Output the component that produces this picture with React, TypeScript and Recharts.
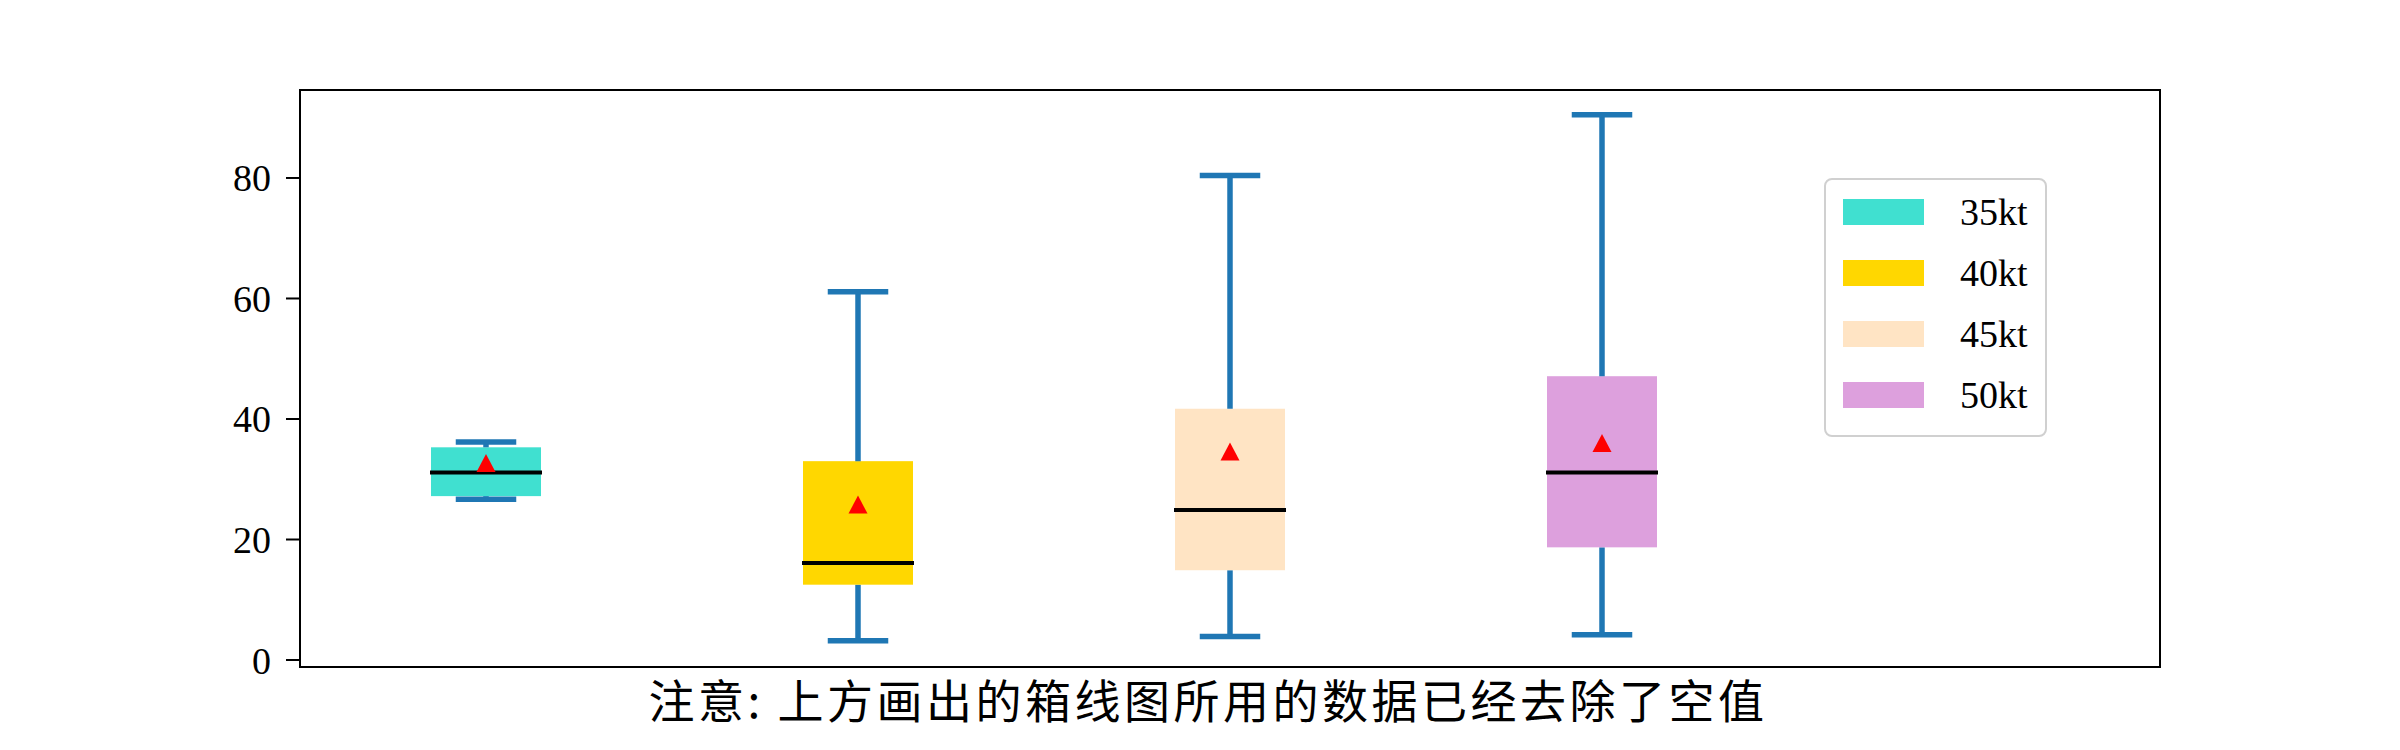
import React from 'react';
import {
  ComposedChart,
  Bar,
  Scatter,
  XAxis,
  YAxis,
  ReferenceArea,
} from 'recharts';

// box plot stats
const groups = ['35kt', '40kt', '45kt', '50kt'];
const positions = [1, 2, 3, 4];
const whiskerLow = [26.7, 3.2, 3.9, 4.2];
const q1 = [27.2, 12.5, 14.9, 18.7];
const median = [31.1, 16.1, 24.9, 31.1];
const q3 = [35.3, 33.0, 41.7, 47.1];
const whiskerHigh = [36.2, 61.1, 80.4, 90.5];
const means = [32.7, 25.8, 34.6, 36.0];
const boxColors = ['#40E0D0', '#FFD700', '#FFE4C4', '#DDA0DD'];
const yTicks = [0, 20, 40, 60, 80];

const caption = '注意: 上方画出的箱线图所用的数据已经去除了空值';

const WHISKER = '#1f77b4';
const serif = '"Liberation Serif", "DejaVu Serif", serif';

const data = groups.map((name, i) => ({
  name,
  pos: positions[i],
  base: whiskerLow[i],
  lw: q1[i] - whiskerLow[i],
  lb: median[i] - q1[i],
  ub: q3[i] - median[i],
  uw: whiskerHigh[i] - q3[i],
  mean: means[i],
  color: boxColors[i],
}));

const Empty = () => <g />;

const LowerWhisker = (props: any) => {
  const { x, y, width, height } = props;
  const cx = x + width / 2;
  const cap = width * 0.25;
  return (
    <g stroke={WHISKER} strokeWidth={5.5}>
      <line x1={cx} x2={cx} y1={y} y2={y + height} />
      <line x1={cx - cap} x2={cx + cap} y1={y + height} y2={y + height} strokeLinecap="square" />
    </g>
  );
};

const UpperWhisker = (props: any) => {
  const { x, y, width, height } = props;
  const cx = x + width / 2;
  const cap = width * 0.25;
  return (
    <g stroke={WHISKER} strokeWidth={5.5}>
      <line x1={cx} x2={cx} y1={y} y2={y + height} />
      <line x1={cx - cap} x2={cx + cap} y1={y} y2={y} strokeLinecap="square" />
    </g>
  );
};

const BoxLower = (props: any) => {
  const { x, y, width, height, payload } = props;
  return <rect x={x} y={y} width={width} height={height} fill={payload.color} />;
};

const BoxUpper = (props: any) => {
  const { x, y, width, height, payload } = props;
  return (
    <g>
      <rect x={x} y={y} width={width} height={height} fill={payload.color} />
      <line x1={x - 1} x2={x + width + 1} y1={y + height} y2={y + height} stroke="#000" strokeWidth={4} />
    </g>
  );
};

const MeanMarker = (props: any) => {
  const { cx, cy } = props;
  const w = 19;
  const h = 18;
  return (
    <polygon
      points={`${cx},${cy - h / 2} ${cx - w / 2},${cy + h / 2} ${cx + w / 2},${cy + h / 2}`}
      fill="#ff0000"
    />
  );
};

export default function App() {
  return (
    <div style={{ position: 'absolute', left: 0, top: 0, width: 2400, height: 750, background: '#fff' }}>
      <ComposedChart
        width={2400}
        height={750}
        data={data}
        margin={{ top: 90, right: 240, bottom: 83, left: 0 }}
      >
        <XAxis dataKey="pos" type="number" domain={[0.5, 5.5]} allowDataOverflow hide />
        <YAxis
          type="number"
          domain={[-1.16, 94.6]}
          allowDataOverflow
          ticks={yTicks}
          width={300}
          tickSize={14}
          tickMargin={15}
          axisLine={false}
          tickLine={{ stroke: '#000', strokeWidth: 2 }}
          tick={{ fill: '#000', fontSize: 38, fontFamily: serif }}
        />
        <Bar dataKey="base" stackId="box" barSize={110} shape={<Empty />} isAnimationActive={false} />
        <Bar dataKey="lw" stackId="box" barSize={110} shape={<LowerWhisker />} isAnimationActive={false} />
        <Bar dataKey="lb" stackId="box" barSize={110} shape={<BoxLower />} isAnimationActive={false} />
        <Bar dataKey="ub" stackId="box" barSize={110} shape={<BoxUpper />} isAnimationActive={false} />
        <Bar dataKey="uw" stackId="box" barSize={110} shape={<UpperWhisker />} isAnimationActive={false} />
        <Scatter dataKey="mean" shape={<MeanMarker />} isAnimationActive={false} />
        <ReferenceArea
          x1={0.5}
          x2={5.5}
          y1={-1.16}
          y2={94.6}
          fill="none"
          stroke="#000"
          strokeWidth={2}
          ifOverflow="visible"
        />
      </ComposedChart>

      <div
        style={{
          position: 'absolute',
          left: 1824,
          top: 178,
          width: 219,
          height: 255,
          border: '2px solid #d0d0d0',
          borderRadius: 8,
          background: '#fff',
          fontFamily: serif,
          fontSize: 38,
        }}
      >
        {groups.map((g, i) => (
          <div
            key={g}
            style={{ position: 'absolute', left: 17, top: 17 + i * 61, height: 30, display: 'flex', alignItems: 'center' }}
          >
            <div style={{ width: 81, height: 26, background: boxColors[i] }} />
            <span style={{ marginLeft: 36, lineHeight: '30px' }}>{g}</span>
          </div>
        ))}
      </div>

      <div
        style={{
          position: 'absolute',
          left: 278,
          width: 1860,
          top: 673,
          textAlign: 'center',
          fontFamily: '"Noto Sans CJK SC", sans-serif',
          fontSize: 46,
          lineHeight: '50px',
          letterSpacing: 3.5,
          color: '#000',
        }}
      >
        {caption}
      </div>
    </div>
  );
}
